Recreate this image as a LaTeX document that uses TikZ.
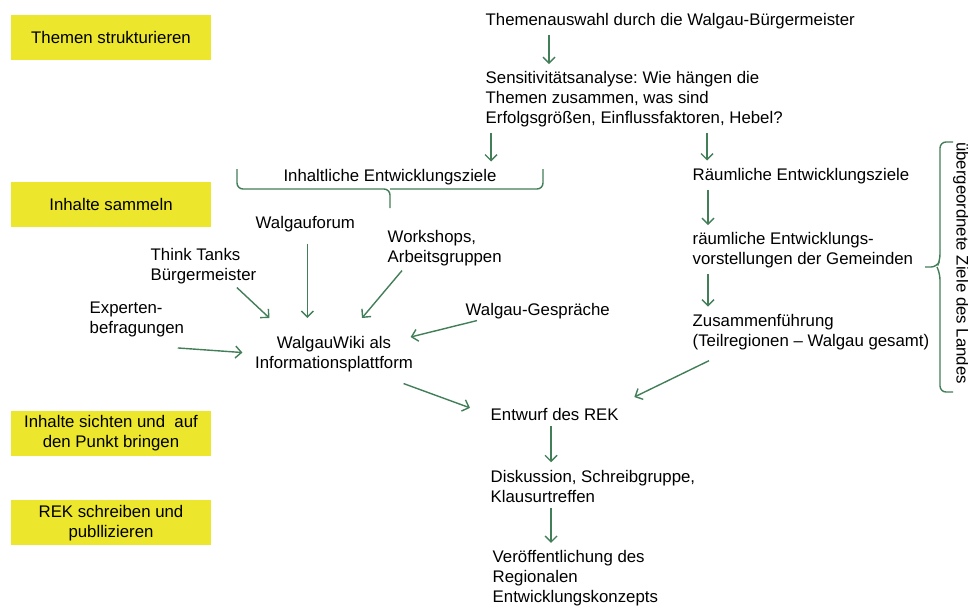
\documentclass[tikz,border=0pt]{standalone}
\usepackage{fontspec}
\setmainfont{Liberation Sans}
\usepackage{tikz}
\usetikzlibrary{arrows.meta}
\usetikzlibrary{calc}
\usetikzlibrary{positioning}
\definecolor{phaseyellow}{RGB}{236,231,45}
\definecolor{arrowgreen}{RGB}{66,126,88}
\tikzset{bw/.style n args={2}{below=#1 of #2.south west, anchor=north west}}
\frenchspacing

\begin{document}
\begin{tikzpicture}[x=0.5pt,y=-0.5pt,>={Straight Barb[length=3pt,width=6pt]}, line width=0.7pt, font=\fontsize{8.4pt}{10pt}\selectfont]
\tikzstyle{phase} = [rectangle, fill=phaseyellow, minimum width=100pt, minimum height=22.5pt, align=center, inner sep=0pt]
\tikzstyle{txt} = [inner sep=0pt, align=left, anchor=north west]
\tikzstyle{link} = [->, draw=arrowgreen]
\tikzstyle{arr} = [link, shorten <=2.5pt, shorten >=3.5pt]
\tikzstyle{bracket} = [draw=arrowgreen, rounded corners=3pt]

\useasboundingbox (0,0) rectangle (968,606);

% phases
\node[phase] (STRUKT) at (111,37.5) {Themen strukturieren};
\node[phase, below=60.5pt of STRUKT] (SAMMELN) {Inhalte sammeln};
\node[phase, below=91pt of SAMMELN] (SICHTEN) {Inhalte sichten und\ \ auf\\den Punkt bringen};
\node[phase, below=21.5pt of SICHTEN] (SCHREIBEN) {REK schreiben und\\publlizieren};

% themes
\node[txt] (THEMEN) at (485,12.5) {Themenauswahl durch die Walgau-Bürgermeister};
\node[txt, bw={20.75pt}{THEMEN}] (SENS) {Sensitivitätsanalyse: Wie hängen die\\Themen zusammen, was sind\\Erfolgsgrößen, Einflussfaktoren, Hebel?};

\node[txt, anchor=north] (INHALT) at (390,168.5) {Inhaltliche Entwicklungsziele};

% spatial column
\node[txt] (RAEUM) at (692,167.5) {Räumliche Entwicklungsziele};
\node[txt, bw={23.75pt}{RAEUM}] (VORST) {räumliche Entwicklungs-\\vorstellungen der Gemeinden};
\node[txt, bw={22.25pt}{VORST}] (ZUSAMMEN) {Zusammenführung\\(Teilregionen – Walgau gesamt)};

% sources
\node[txt] (FORUM) at (255,215.5) {Walgauforum};
\node[txt] (WORKSHOPS) at (387,229.5) {Workshops,\\Arbeitsgruppen};
\node[txt] (THINK) at (150,247.5) {Think Tanks\\Bürgermeister};
\node[txt] (EXPERT) at (89,301.5) {Experten-\\befragungen};
\node[txt] (GESPR) at (465,302.5) {Walgau-Gespräche};
\node[txt, anchor=north, align=center] (WIKI) at (334,335.5) {WalgauWiki als\\Informationsplattform};

% REK
\node[txt] (ENTWURF) at (490,407.5) {Entwurf des REK};
\node[txt, bw={24pt}{ENTWURF}] (DISK) {Diskussion, Schreibgruppe,\\Klausurtreffen};
\node[txt, bw={23.5pt}{DISK}, xshift=1pt] (VEROEFF) {Veröffentlichung des\\Regionalen\\Entwicklungskonzepts};

\node[inner sep=0pt, rotate=-90] (LANDES) at (961,263) {übergeordnete Ziele des Landes};

% braces
\draw[bracket] (237,169) |- (390,189) -- (390,208);
\draw[bracket] (543,169) |- (390,189);
\draw[bracket] (953,142) -- (940,142) -- (940,260) -- (937,267) -- (925,267);
\draw[bracket] (937,267) -- (940,274) -- (940,392) -- (953,392);

\path[arr] ([xshift=32pt]THEMEN.south west) -- ([xshift=32pt]SENS.north west);
\path[arr] ([xshift=3pt]SENS.south west) -- ([xshift=3pt]SENS.south west |- INHALT.north);
\path[arr] ([xshift=7.5pt]RAEUM.north west |- SENS.south) -- ([xshift=7.5pt]RAEUM.north west);
\path[arr] ([xshift=8pt]RAEUM.south west) -- ([xshift=8pt]VORST.north west);
\path[arr] ([xshift=8pt]VORST.south west) -- ([xshift=8pt]ZUSAMMEN.north west);
\path[link] ([xshift=8.5pt,yshift=-5pt]ZUSAMMEN.south west) -- ([xshift=7.5pt,yshift=5.25pt]ENTWURF.north east);

\path[link] ([xshift=1pt,yshift=-5.5pt]FORUM.south) -- ([xshift=1pt,yshift=8.75pt]FORUM.south |- WIKI.north);
\path[link] ([xshift=-10pt,yshift=-1.5pt]THINK.south east) -- ([xshift=7.5pt,yshift=8.75pt]WIKI.north west);
\path[link] ([xshift=7.5pt,yshift=-2pt]WORKSHOPS.south west) -- ([xshift=14pt,yshift=8.75pt]WIKI.north);
\path[link] ([xshift=-3.5pt,yshift=-5pt]EXPERT.south east) -- ([xshift=-6pt,yshift=0.75pt]WIKI.west);
\path[link] ([xshift=6pt,yshift=-0.5pt]GESPR.south west) -- ([xshift=-1.5pt,yshift=-0.75pt]WIKI.north east);
\path[link] ([xshift=-5pt,yshift=-5.5pt]WIKI.south east) -- ([xshift=-10pt,yshift=3.25pt]ENTWURF.west);

\path[arr] ([xshift=30.5pt]ENTWURF.south west) -- ([xshift=30.5pt]DISK.north west);
\path[arr] ([xshift=30.5pt]DISK.south west) -- ([xshift=30.5pt]DISK.south west |- VEROEFF.north);
\end{tikzpicture}
\end{document}
